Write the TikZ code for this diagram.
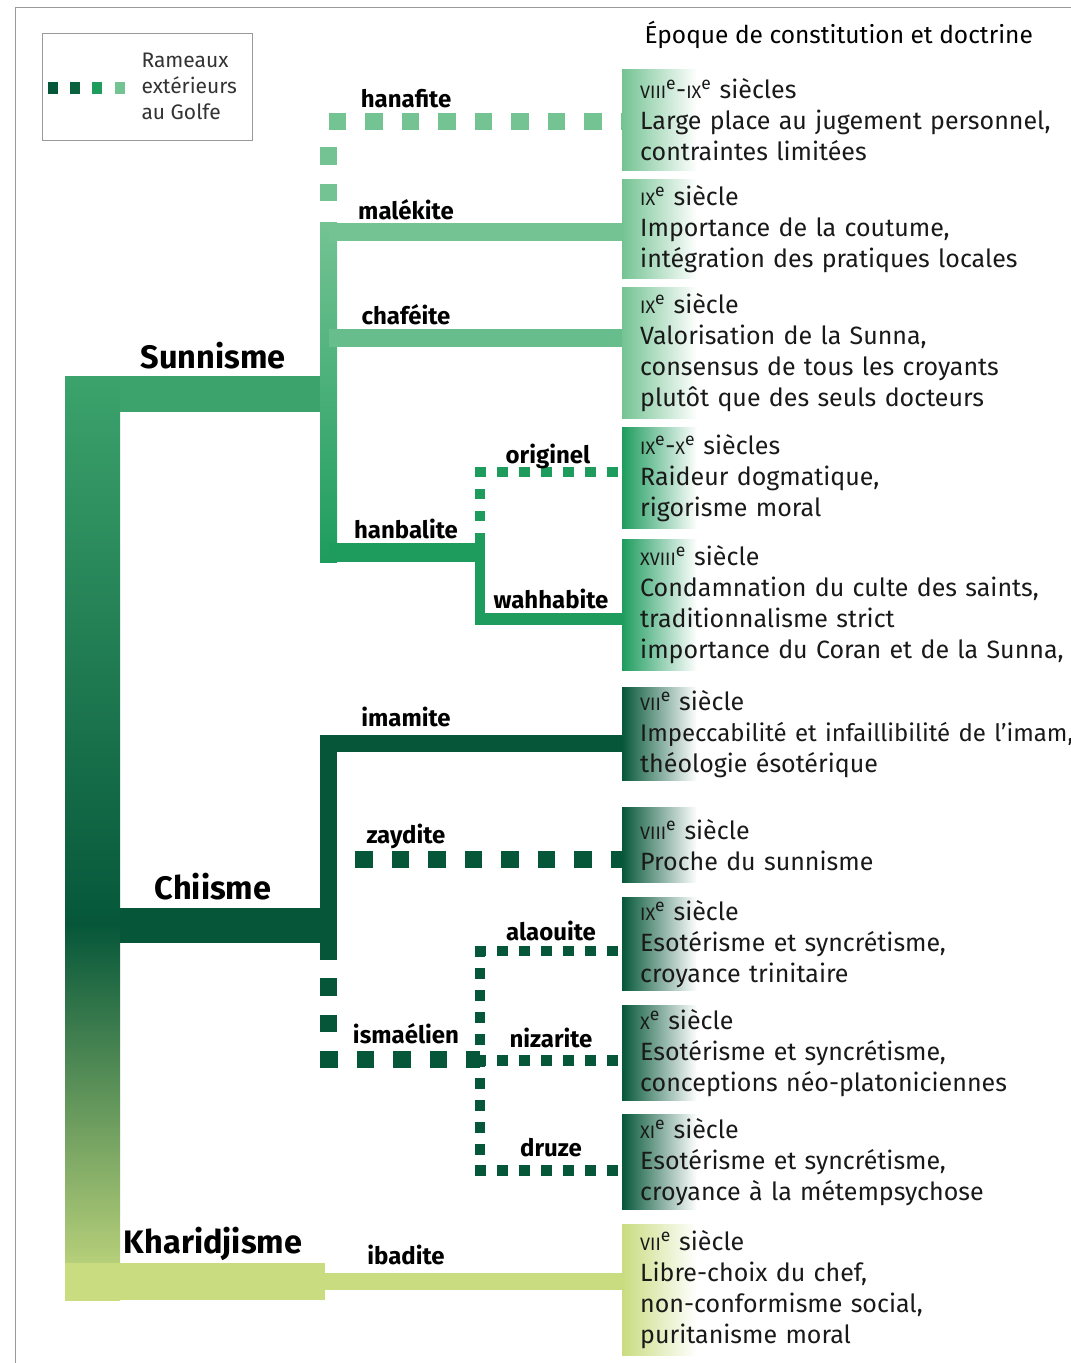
\documentclass[tikz,border=0pt]{standalone}
\usepackage{fontspec}
\setmainfont{Fira Sans}
\usepackage{tikz}
\usetikzlibrary{positioning,calc,backgrounds}

\definecolor{sunlight}{HTML}{74C393}
\definecolor{sunmid}{HTML}{3CA36C}
\definecolor{hanbal}{HTML}{1E9C5E}
\definecolor{chiite}{HTML}{06573A}
\definecolor{kharij}{HTML}{C9DC80}
\definecolor{frame}{HTML}{9A9A9A}

\newcommand{\sie}[1]{{\fontsize{18}{18}\selectfont #1}\textsuperscript{e}}
\newcommand{\fade}[2]{\shade[left color=#2, right color=white] (#1.north west) rectangle ($(#1.south west)+(75,0)$);}

\begin{document}
\begin{tikzpicture}[x=1pt, y=-1pt,
        doc/.style={anchor=west, minimum height=#1, inner xsep=18pt, inner ysep=0pt, text width=470pt, align=left,
            font=\fontsize{25}{31}\selectfont, text=black!90},
        branch/.style={anchor=base, font=\bfseries\fontsize{24}{24}\selectfont},
        sect/.style={anchor=base, font=\bfseries\fontsize{32.5}{32}\selectfont},
        bar/.style={line width=#1, line cap=butt},
        bigdot/.style={bar=#1, dash pattern=on 17.5pt off 19pt},
        smalldot/.style={bar=#1, dash pattern=on 10.5pt off 11.5pt}]
        \useasboundingbox (0,0) rectangle (1071,1363);
        \draw[frame] (15,1363) -- (15,7) -- (1071,7);

        % legend
        \node[draw=frame, anchor=north west, minimum width=210pt, minimum height=107pt] (legend) at (42,33) {};
        \node[anchor=west, align=left, font=\fontsize{21}{26}\selectfont, text=black!80] (legendTxt) at (138,86) {Rameaux\\extérieurs\\au Golfe};
        \fill[chiite] (48,82) rectangle (58,94);
        \fill[chiite!85!hanbal] (70,82) rectangle (80,94);
        \fill[hanbal] (92,82) rectangle (102,94);
        \fill[sunlight] (115,82) rectangle (125,94);

        \node[anchor=base west, font=\fontsize{24.5}{24}\selectfont] (title) at (641,43) {Époque de constitution et doctrine};

        % doctrine boxes
        \node[doc=100pt] (hanafiteDoc) at (622,120) {\sie{VIII}-\sie{IX} siècles\\Large place au jugement personnel,\\contraintes limitées};
        \node[doc=98pt] (malekiteDoc) at (622,229) {\sie{IX} siècle\\Importance de la coutume,\\intégration des pratiques locales};
        \node[doc=130pt] (chafeiteDoc) at (622,353) {\sie{IX} siècle\\Valorisation de la Sunna,\\consensus de tous les croyants\\plutôt que des seuls docteurs};
        \node[doc=100pt] (originelDoc) at (622,478) {\sie{IX}-\sie{X} siècles\\Raideur dogmatique,\\rigorisme moral};
        \node[doc=130pt] (wahhabiteDoc) at (622,605) {\sie{XVIII} siècle\\Condamnation du culte des saints,\\traditionnalisme strict\\importance du Coran et de la Sunna,};
        \node[doc=92pt] (imamiteDoc) at (622,734) {\sie{VII} siècle\\{\fontsize{24}{31}\selectfont Impeccabilité et infaillibilité de l’imam,}\\théologie ésotérique};
        \node[doc=74pt] (zayditeDoc) at (622,845) {\sie{VIII} siècle\\Proche du sunnisme};
        \node[doc=92pt] (alaouiteDoc) at (622,944) {\sie{IX} siècle\\Esotérisme et syncrétisme,\\croyance trinitaire};
        \node[doc=94pt] (nizariteDoc) at (622,1053) {\sie{X} siècle\\Esotérisme et syncrétisme,\\conceptions néo-platoniciennes};
        \node[doc=95pt] (druzeDoc) at (622,1162) {\sie{XI} siècle\\Esotérisme et syncrétisme,\\croyance à la métempsychose};
        \node[doc=130pt] (ibaditeDoc) at (622,1290) {\sie{VII} siècle\\Libre-choix du chef,\\non-conformisme social,\\puritanisme moral};

        \begin{scope}[on background layer]
            \fade{hanafiteDoc}{sunlight}
            \fade{malekiteDoc}{sunlight}
            \fade{chafeiteDoc}{sunlight}
            \fade{originelDoc}{hanbal}
            \fade{wahhabiteDoc}{hanbal}
            \fade{imamiteDoc}{chiite}
            \fade{zayditeDoc}{chiite}
            \fade{alaouiteDoc}{chiite}
            \fade{nizariteDoc}{chiite}
            \fade{druzeDoc}{chiite}
            \fade{ibaditeDoc}{kharij}
        \end{scope}

        % fork points
        \coordinate (sunFork) at (328.5,393);
        \coordinate (hanFork) at (480,552.5);
        \coordinate (chiFork) at (328.5,925);
        \coordinate (ismFork) at (480,1059.5);

        % trunk and main branches
        \shade[top color=sunmid, bottom color=chiite] (65,376) rectangle (120,925);
        \shade[top color=chiite, bottom color=kharij] (65,925) rectangle (120,1300);
        \fill[sunmid] (120,376) rectangle (337,412);                                   % Sunnisme
        \shade[top color=sunlight, bottom color=hanbal] (320,222) rectangle (337,562);  % sunni stem
        \fill[chiite] (120,908) rectangle (337,943);                                  % Chiisme
        \fill[chiite] (320,735) rectangle (337,960);                                  % chiite stem
        \fill[kharij] (65,1263) rectangle (325,1300);                                 % Kharidjisme

        % sunni schools
        \draw[bigdot=17pt, sunlight] (sunFork |- 0,121.5) -- (hanafiteDoc.west |- 0,121.5);  % hanafite
        \draw[bigdot=17pt, sunlight] (sunFork |- 0,147) -- (sunFork |- 0,202);               % up to hanafite
        \draw[bar=18pt, sunlight] (sunFork |- 0,232) -- (malekiteDoc.west |- 0,232);         % malekite
        \draw[bar=18pt, sunlight!85!hanbal] (sunFork |- 0,338) -- (chafeiteDoc.west |- 0,338); % chafeite
        \draw[bar=19pt, hanbal] (sunFork |- hanFork) -- ([xshift=5pt]hanFork);                % hanbalite
        \draw[bar=10pt, hanbal] (hanFork) -- (hanFork |- 0,625);
        \draw[bar=12pt, hanbal] (475,619) -- (wahhabiteDoc.west |- 0,619);                   % wahhabite
        \draw[smalldot=10pt, hanbal] (480,543) -- (480,467);                                 % up to originel
        \draw[smalldot=10.5pt, hanbal] (475,472) -- (originelDoc.west |- 0,472);             % originel

        % chiite schools
        \draw[bar=17pt, chiite] (chiFork |- 0,743.5) -- (imamiteDoc.west |- 0,743.5);        % imamite
        \draw[bigdot=17pt, chiite] (355,859.5) -- (zayditeDoc.west |- 0,859.5);              % zaydite
        \draw[bigdot=17pt, chiite] (chiFork |- 0,978) -- (chiFork |- 0,1032);                % down to ismaelien
        \draw[bigdot=17pt, chiite] (320,1059.5) -- (ismFork);                                % ismaelien
        \draw[smalldot=10pt, chiite] (480,946) -- (480,1176);                                % ismaelien stem
        \draw[smalldot=10.5pt, chiite] (475,951) -- (alaouiteDoc.west |- 0,951);             % alaouite
        \draw[smalldot=10.5pt, chiite] (475,1060.5) -- (nizariteDoc.west |- 0,1060.5);       % nizarite
        \draw[smalldot=10.5pt, chiite] (475,1170.5) -- (druzeDoc.west |- 0,1170.5);          % druze

        % kharidjite
        \draw[bar=17pt, kharij] (325,1281.5) -- (ibaditeDoc.west |- 0,1281.5);               % ibadite

        % labels
        \node[sect] (sunnisme) at (213,368) {Sunnisme};
        \node[sect] (chiisme) at (213,899) {Chiisme};
        \node[sect] (kharidjisme) at (213,1253) {Kharidjisme};
        \node[branch] (hanafite) at (406,107) {hanafite};
        \node[branch] (malekite) at (406,219) {malékite};
        \node[branch] (chafeite) at (406,324) {chaféite};
        \node[branch] (originel) at (548,463) {originel};
        \node[branch] (hanbalite) at (406,538) {hanbalite};
        \node[branch] (wahhabite) at (551,608) {wahhabite};
        \node[branch] (imamite) at (406,726) {imamite};
        \node[branch] (zaydite) at (406,843) {zaydite};
        \node[branch] (alaouite) at (551,940) {alaouite};
        \node[branch] (ismaelien) at (406,1043) {ismaélien};
        \node[branch] (nizarite) at (551,1047) {nizarite};
        \node[branch] (druze) at (551,1156) {druze};
        \node[branch] (ibadite) at (406,1264) {ibadite};
\end{tikzpicture}
\end{document}
